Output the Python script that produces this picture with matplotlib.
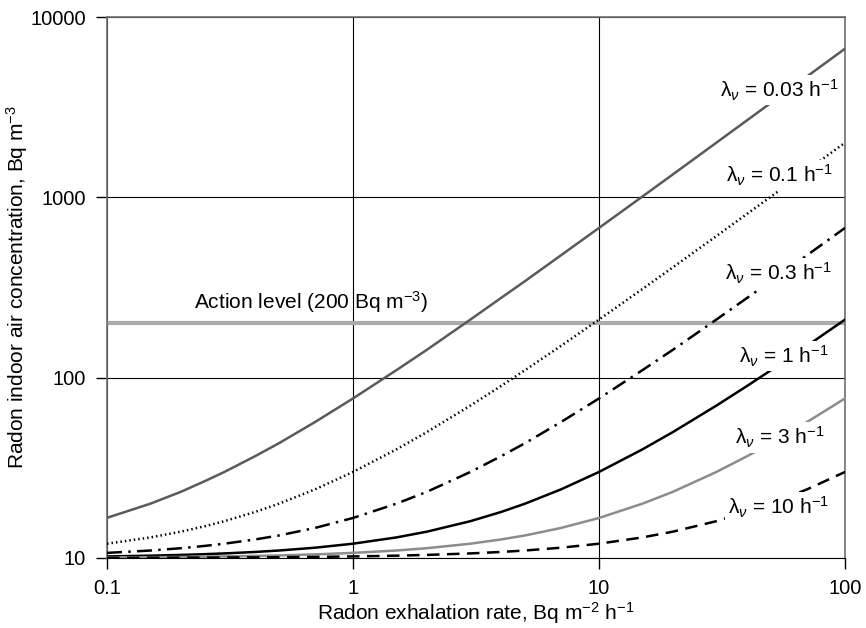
import matplotlib.pyplot as plt
import numpy as np

plt.rcParams['font.family'] = ['Liberation Sans', 'DejaVu Sans']
plt.rcParams['mathtext.fontset'] = 'custom'
plt.rcParams['mathtext.rm'] = 'Liberation Sans'
plt.rcParams['mathtext.it'] = 'Liberation Sans:italic'

# exhalation rate (Bq m-2 h-1)
rate = [0.1, 0.15, 0.2, 0.25, 0.3, 0.4, 0.5, 0.7, 1, 1.5, 2, 3, 4, 5, 7,
        10, 15, 20, 30, 40, 50, 70, 100]

# indoor concentration (Bq m-3) per ventilation rate
c_003 = [16.7, 20, 23.3, 26.7, 30, 36.7, 43.3, 56.7, 76.7, 110, 143, 210, 277,
         343, 477, 677, 1010, 1343, 2010, 2677, 3343, 4677, 6677]
c_01 = [12, 13, 14, 15, 16, 18, 20, 24, 30, 40, 50, 70, 90, 110, 150, 210, 310,
        410, 610, 810, 1010, 1410, 2010]
c_03 = [10.67, 11, 11.33, 11.67, 12, 12.67, 13.33, 14.67, 16.67, 20, 23.3, 30,
        36.7, 43.3, 56.7, 76.7, 110, 143, 210, 277, 343, 477, 677]
c_1 = [10.2, 10.3, 10.4, 10.5, 10.6, 10.8, 11, 11.4, 12, 13, 14, 16, 18, 20, 24,
       30, 40, 50, 70, 90, 110, 150, 210]
c_3 = [10.07, 10.1, 10.13, 10.17, 10.2, 10.27, 10.33, 10.47, 10.67, 11, 11.33, 12,
       12.67, 13.33, 14.67, 16.67, 20, 23.3, 30, 36.7, 43.3, 56.7, 76.7]
c_10 = [10.02, 10.03, 10.04, 10.05, 10.06, 10.08, 10.1, 10.14, 10.2, 10.3, 10.4,
        10.6, 10.8, 11, 11.4, 12, 13, 14, 16, 18, 20, 24, 30]

action_level = 200

fig = plt.figure(figsize=(8.66, 6.28), dpi=100)
ax = fig.add_axes([0.1236, 0.1115, 0.8522, 0.8614])

ax.set_xscale('log')
ax.set_yscale('log')
ax.set_xlim(0.1, 100)
ax.set_ylim(10, 10000)

ax.grid(True, which='major', color='black', lw=0.8)
ax.minorticks_off()

ax.axhline(action_level, color='#ababab', lw=3, zorder=2)

ax.plot(rate, c_003, color='#5a5a5a', lw=1.8, zorder=3)
ax.plot(rate, c_01, color='black', lw=1.8, linestyle=(0, (0.6, 1.2)), zorder=3)
ax.plot(rate, c_03, color='black', lw=1.8, linestyle=(0, (6, 2.5, 1, 2.5)), zorder=3)
ax.plot(rate, c_1, color='black', lw=1.8, zorder=3)
ax.plot(rate, c_3, color='#8c8c8c', lw=1.8, zorder=3)
ax.plot(rate, c_10, color='black', lw=1.8, linestyle=(0, (5, 3)), zorder=3)

box = dict(facecolor='white', edgecolor='none', pad=2)
labels = [
    (93.6, 3930, '0.03'),
    (89.3, 1324, '0.1'),
    (88.5, 378, '0.3'),
    (85.3, 132, '1'),
    (82.7, 46.4, '3'),
    (86, 19, '10'),
]
for lx, ly, lam in labels:
    ax.text(lx, ly, r'λ$_{\nu}$ = ' + lam + ' h$^{-1}$', ha='right', va='center',
            fontsize=15, bbox=box, zorder=4)

ax.text(0.675, 261, 'Action level (200 Bq m$^{-3}$)', ha='center', va='center', fontsize=15)

for side in ['left', 'top', 'right']:
    ax.spines[side].set_color('#707070')
    ax.spines[side].set_linewidth(1.2)
ax.spines['bottom'].set_color('black')

ax.set_xticks([0.1, 1, 10, 100])
ax.set_xticklabels(['0.1', '1', '10', '100'])
ax.set_yticks([10, 100, 1000, 10000])
ax.set_yticklabels(['10', '100', '1000', '10000'])
ax.tick_params(length=8, width=1, labelsize=14.5, pad=7)

ax.set_xlabel('Radon exhalation rate, Bq m$^{-2}$ h$^{-1}$', fontsize=15, labelpad=2)
ax.set_ylabel('Radon indoor air concentration, Bq m$^{-3}$', fontsize=15)
ax.yaxis.set_label_coords(-0.105, 0.5)

fig.savefig('out.png', dpi=100)
